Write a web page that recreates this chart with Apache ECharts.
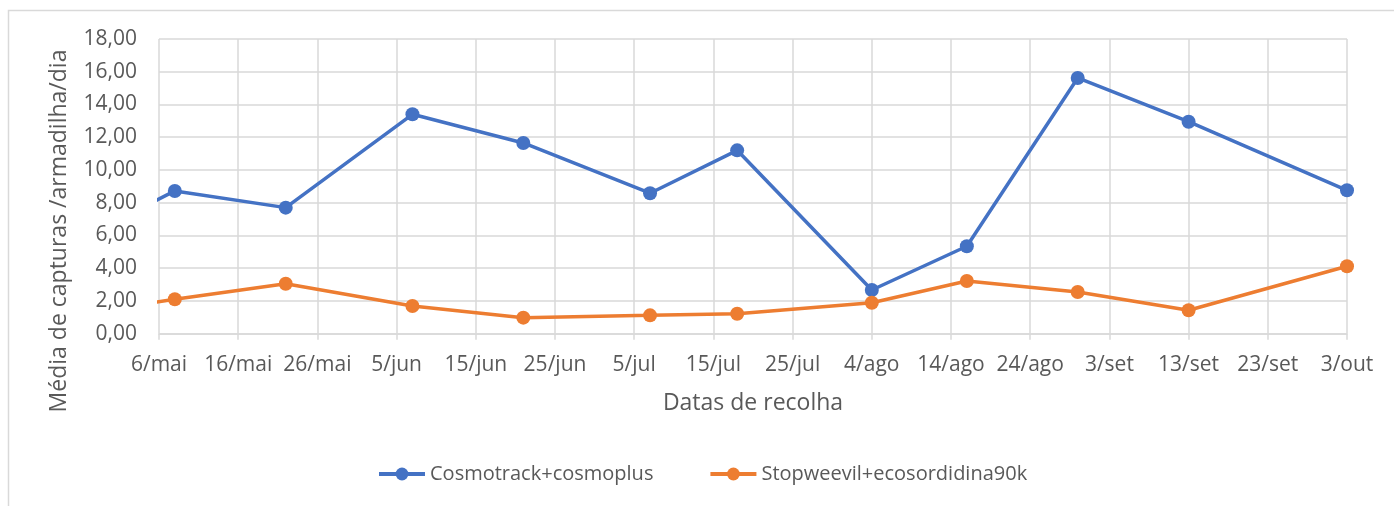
<!DOCTYPE html>
<html>
<head>
<meta charset="utf-8">
<script src="https://cdn.jsdelivr.net/npm/echarts@6/dist/echarts.min.js"></script>
<style>html,body{margin:0;padding:0;background:#fff}#c{width:1394px;height:506px}</style>
</head>
<body>
<div id="c"></div>
<script>
// ---- data ----
const seriesNames = ['Cosmotrack+cosmoplus', 'Stopweevil+ecosordidina90k'];
// collection dates (first one lies before the axis start and is clipped)
const dates = ['2021-04-24','2021-05-08','2021-05-22','2021-06-07','2021-06-21','2021-07-07','2021-07-18','2021-08-04','2021-08-16','2021-08-30','2021-09-13','2021-10-03'];
const cosmotrack = [5.30, 8.72, 7.70, 13.40, 11.65, 8.58, 11.20, 2.67, 5.34, 15.62, 12.95, 8.76];
const stopweevil = [1.05, 2.10, 3.05, 1.69, 0.98, 1.12, 1.22, 1.89, 3.22, 2.55, 1.43, 4.12];
const axisStart = '2021-05-06';
const axisEnd = '2021-10-03';
const monthNames = ['jan','fev','mar','abr','mai','jun','jul','ago','set','out','nov','dez'];
const yTitle = 'Média de capturas /armadilha/dia';
const xTitle = 'Datas de recolha';

const DAY = 86400000;
const t0 = Date.parse(axisStart + 'T00:00:00Z');
const off = d => Math.round((Date.parse(d + 'T00:00:00Z') - t0) / DAY);
const xmax = off(axisEnd);
const fmtDate = v => { const d = new Date(t0 + v * DAY); return d.getUTCDate() + '/' + monthNames[d.getUTCMonth()]; };

const FONT = 'Open Sans';
const TXT = '#595959';
const GRID = '#d9d9d9';

const chart = echarts.init(document.getElementById('c'), null, {renderer: 'canvas'});
const mk = (name, vals, color) => ({
  name, type: 'line', data: dates.map((d, i) => [off(d), vals[i]]),
  clip: true, symbol: 'circle', symbolSize: 14,
  lineStyle: {color, width: 3.5}, itemStyle: {color}, color
});
chart.setOption({
  animation: false,
  textStyle: {fontFamily: FONT},
  grid: {left: 159, right: 1394 - 1347, top: 39, bottom: 506 - 333.7, containLabel: false},
  xAxis: {
    type: 'value', min: 0, max: xmax, interval: 10,
    axisLine: {show: true, lineStyle: {color: GRID, width: 1.5}},
    axisTick: {show: true, length: 6, lineStyle: {color: GRID, width: 1.5}},
    axisLabel: {color: TXT, fontSize: 21, fontFamily: FONT, margin: 21, formatter: fmtDate},
    splitLine: {show: true, lineStyle: {color: GRID, width: 1.5}},
    name: xTitle, nameLocation: 'middle', nameGap: 58,
    nameTextStyle: {color: TXT, fontSize: 23, fontFamily: FONT}
  },
  yAxis: {
    type: 'value', min: 0, max: 18, interval: 2,
    axisLine: {show: false}, axisTick: {show: false},
    axisLabel: {color: TXT, fontSize: 21, fontFamily: FONT, margin: 22,
      formatter: v => v.toFixed(2).replace('.', ',')},
    splitLine: {show: true, lineStyle: {color: GRID, width: 1.5}}
  },
  legend: {
    data: seriesNames, left: 372, top: 459, itemWidth: 46, itemHeight: 16, itemGap: 55,
    lineStyle: {width: 4},
    textStyle: {color: TXT, fontSize: 20, fontFamily: FONT}
  },
  graphic: [
    {type: 'rect', shape: {x: 8.5, y: 10.5, width: 1500, height: 600}, style: {fill: 'none', stroke: GRID, lineWidth: 1.5}, silent: true, z: -10},
    {type: 'text', x: 59, y: 231, rotation: Math.PI / 2,
      style: {text: yTitle, fill: TXT, fontSize: 23, fontFamily: FONT, textAlign: 'center', textVerticalAlign: 'middle'}}
  ],
  series: [mk(seriesNames[0], cosmotrack, '#4472C4'), mk(seriesNames[1], stopweevil, '#ED7D31')]
});
</script>
</body>
</html>
